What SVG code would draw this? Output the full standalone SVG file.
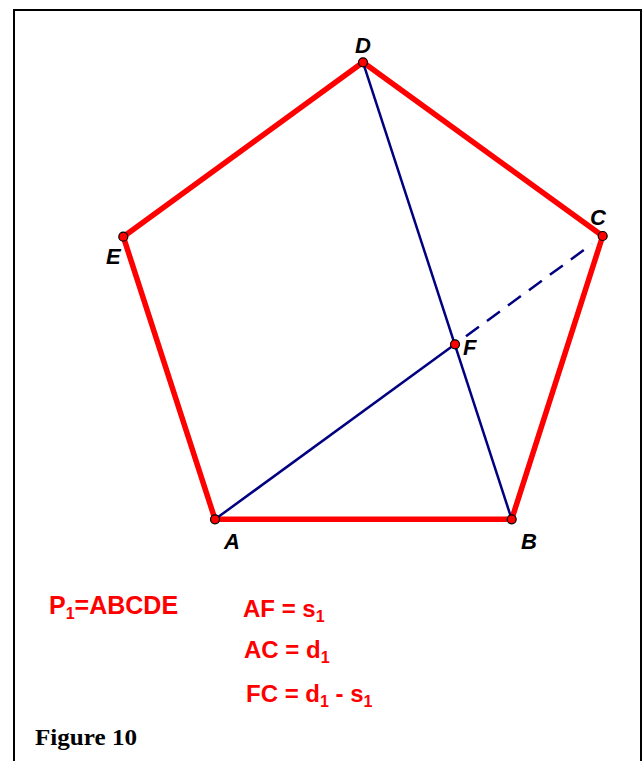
<svg xmlns="http://www.w3.org/2000/svg" width="644" height="761" viewBox="0 0 644 761">
<style>
.edge{stroke:#ff0000;stroke-width:5.5;stroke-linecap:round;fill:none}
.diag{stroke:#000080;stroke-width:2.5;fill:none}
.dash{stroke-dasharray:16 10}
.pt{fill:#ff0000;stroke:#000;stroke-width:1.2}
.lbl{font-family:"Liberation Sans",Arial,sans-serif;font-weight:bold;font-style:italic;font-size:22px;fill:#000}
.eq{font-family:"Liberation Sans",Arial,sans-serif;font-weight:bold;font-size:24px;fill:#ff0000}
.sub{font-size:16px}
.cap{font-family:"Liberation Serif","Times New Roman",serif;font-weight:bold;font-size:24px;fill:#000}
</style>
<rect x="0" y="0" width="644" height="761" fill="#fff"/>
<path d="M14,780 V10 H641 V780" fill="none" stroke="#000" stroke-width="2"/>
<g id="connectors">
<line class="edge" x1="215" y1="519.3" x2="511.7" y2="519.3"/>
<line class="edge" x1="511.7" y1="519.3" x2="602.7" y2="236"/>
<line class="edge" x1="602.7" y1="236" x2="363" y2="62.3"/>
<line class="edge" x1="363" y1="62.3" x2="123.3" y2="236.7"/>
<line class="edge" x1="123.3" y1="236.7" x2="215" y2="519.3"/>
<line class="diag" x1="363" y1="62.3" x2="511.7" y2="519.3"/>
<line class="diag" x1="215" y1="519.3" x2="455" y2="344.3"/>
<line class="diag dash" x1="466" y1="336.3" x2="592" y2="244"/>
</g>
<g id="node-A"><circle class="pt" cx="215" cy="519.3" r="4.5"/><text class="lbl" x="224" y="549">A</text></g>
<g id="node-B"><circle class="pt" cx="511.7" cy="519.3" r="4.5"/><text class="lbl" x="521" y="549">B</text></g>
<g id="node-C"><circle class="pt" cx="602.7" cy="236" r="4.5"/><text class="lbl" x="590" y="225">C</text></g>
<g id="node-D"><circle class="pt" cx="363" cy="62.3" r="4.5"/><text class="lbl" x="355" y="53">D</text></g>
<g id="node-E"><circle class="pt" cx="123.3" cy="236.7" r="4.5"/><text class="lbl" x="106" y="264">E</text></g>
<g id="node-F"><circle class="pt" cx="455" cy="344.3" r="4.5"/><text class="lbl" x="463" y="355">F</text></g>
<g id="texts">
<text class="eq" x="49" y="614" style="font-size:25px">P<tspan class="sub" dy="5">1</tspan><tspan dy="-5">=ABCDE</tspan></text>
<text class="eq" x="243" y="617">AF = s<tspan class="sub" dy="5">1</tspan></text>
<text class="eq" x="244" y="658">AC = d<tspan class="sub" dy="5">1</tspan></text>
<text class="eq" x="246" y="702">FC = d<tspan class="sub" dy="5">1</tspan><tspan dy="-5"> - s</tspan><tspan class="sub" dy="5">1</tspan></text>
<text class="cap" x="35" y="745" textLength="102" lengthAdjust="spacingAndGlyphs">Figure 10</text>
</g>
</svg>
